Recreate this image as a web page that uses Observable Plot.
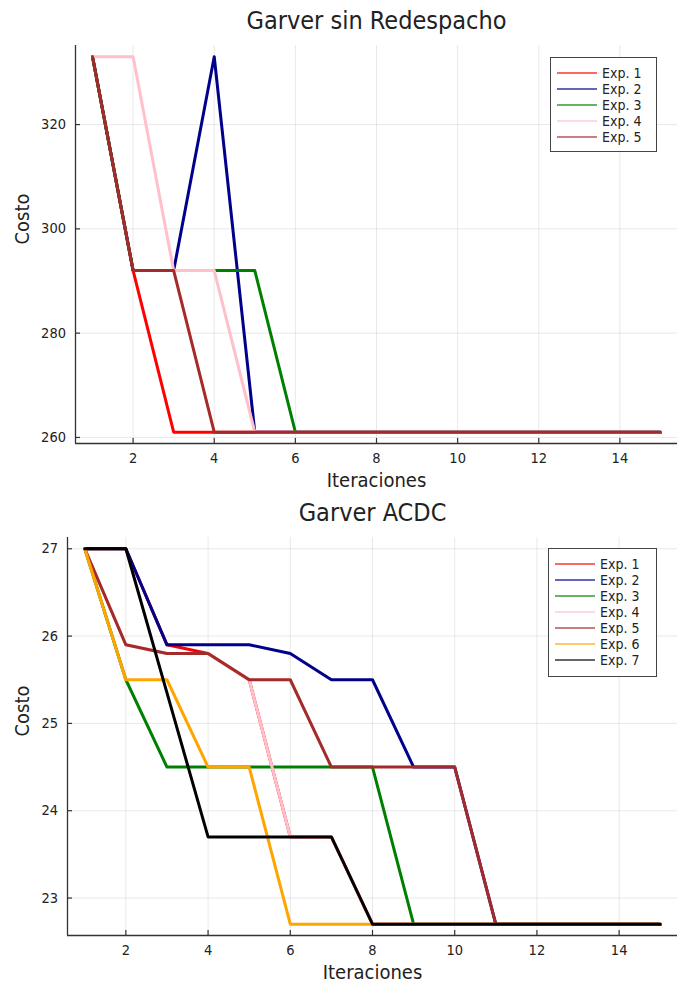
<!DOCTYPE html>
<html>
<head>
<meta charset="utf-8">
<script src="https://cdn.jsdelivr.net/npm/d3@7"></script>
<script src="https://cdn.jsdelivr.net/npm/@observablehq/plot@0.6"></script>
<style>
  html, body { margin: 0; padding: 0; background: #fff; }
  body { width: 680px; font-family: "DejaVu Sans Condensed", "DejaVu Sans", sans-serif; font-stretch: condensed; }
  .chart { position: relative; width: 680px; height: 493px; }
  .chart svg { display: block; }
  .legend { position: absolute; box-sizing: border-box; background: #fff; border: 1px solid #444;
            padding-top: 7px; font-size: 14px; color: #222; }
  .legend .row { display: flex; align-items: center; height: 16px; }
  .legend svg { margin-left: 6px; margin-right: 5px; }
</style>
</head>
<body>
<div id="c1" class="chart"></div>
<div id="c2" class="chart"></div>
<script>
// ---------- data ----------
const iteraciones = [1, 2, 3, 4, 5, 6, 7, 8, 9, 10, 11, 12, 13, 14, 15];
const xTicks = [2, 4, 6, 8, 10, 12, 14];

// Garver sin Redespacho
const topNames  = ["Exp. 1", "Exp. 2", "Exp. 3", "Exp. 4", "Exp. 5"];
const topColors = ["#ff0000", "#00008b", "#008000", "#ffc0cb", "#a52a2a"];
const topExp1 = [333, 292, 261, 261, 261, 261, 261, 261, 261, 261, 261, 261, 261, 261, 261];
const topExp2 = [333, 292, 292, 333, 261, 261, 261, 261, 261, 261, 261, 261, 261, 261, 261];
const topExp3 = [333, 292, 292, 292, 292, 261, 261, 261, 261, 261, 261, 261, 261, 261, 261];
const topExp4 = [333, 333, 292, 292, 261, 261, 261, 261, 261, 261, 261, 261, 261, 261, 261];
const topExp5 = [333, 292, 292, 261, 261, 261, 261, 261, 261, 261, 261, 261, 261, 261, 261];
const topYTicks = [260, 280, 300, 320];

// Garver ACDC
const botNames  = ["Exp. 1", "Exp. 2", "Exp. 3", "Exp. 4", "Exp. 5", "Exp. 6", "Exp. 7"];
const botColors = ["#ff0000", "#00008b", "#008000", "#ffc0cb", "#a52a2a", "#ffa500", "#000000"];
const botExp1 = [27, 27, 25.9, 25.8, 25.5, 23.7, 23.7, 22.7, 22.7, 22.7, 22.7, 22.7, 22.7, 22.7, 22.7];
const botExp2 = [27, 27, 25.9, 25.9, 25.9, 25.8, 25.5, 25.5, 24.5, 24.5, 22.7, 22.7, 22.7, 22.7, 22.7];
const botExp3 = [27, 25.5, 24.5, 24.5, 24.5, 24.5, 24.5, 24.5, 22.7, 22.7, 22.7, 22.7, 22.7, 22.7, 22.7];
const botExp4 = [27, 25.9, 25.8, 25.8, 25.5, 23.7, 23.7, 22.7, 22.7, 22.7, 22.7, 22.7, 22.7, 22.7, 22.7];
const botExp5 = [27, 25.9, 25.8, 25.8, 25.5, 25.5, 24.5, 24.5, 24.5, 24.5, 22.7, 22.7, 22.7, 22.7, 22.7];
const botExp6 = [27, 25.5, 25.5, 24.5, 24.5, 22.7, 22.7, 22.7, 22.7, 22.7, 22.7, 22.7, 22.7, 22.7, 22.7];
const botExp7 = [27, 27, 25.35, 23.7, 23.7, 23.7, 23.7, 22.7, 22.7, 22.7, 22.7, 22.7, 22.7, 22.7, 22.7];
const botYTicks = [23, 24, 25, 26, 27];

// ---------- helpers ----------
const FONT = '"DejaVu Sans Condensed", "DejaVu Sans", sans-serif';
const TITLE_SIZE = 25, LABEL_SIZE = 20, TICK_SIZE = 14.5;

function tidy(names, seriesList) {
  const rows = [];
  names.forEach((n, i) => {
    seriesList[i].forEach((v, j) => rows.push({exp: n, iter: iteraciones[j], cost: v}));
  });
  return rows;
}

function chart({title, names, colors, series, yTicks, yDomain, margins}) {
  const W = 680, H = 493;
  const xDomain = [0.58, 15.42];
  const innerW = W - margins.left - margins.right;
  const innerH = H - margins.top - margins.bottom;
  const rows = tidy(names, series);
  return Plot.plot({
    width: W, height: H,
    marginLeft: margins.left, marginRight: margins.right,
    marginTop: margins.top, marginBottom: margins.bottom,
    style: {fontFamily: FONT, fontStretch: "condensed", background: "#fff", color: "#222", overflow: "visible"},
    x: {domain: xDomain, axis: null},
    y: {domain: yDomain, axis: null},
    color: {domain: names, range: colors},
    marks: [
      Plot.gridX(xTicks, {stroke: "#000", strokeOpacity: 0.09, strokeWidth: 1}),
      Plot.gridY(yTicks, {stroke: "#000", strokeOpacity: 0.09, strokeWidth: 1}),
      Plot.line(rows, {x: "iter", y: "cost", z: "exp", stroke: "exp", strokeWidth: 3, strokeLinejoin: "round"}),
      Plot.ruleY([yDomain[0]], {stroke: "#333", strokeWidth: 1.3}),
      Plot.ruleX([xDomain[0]], {stroke: "#333", strokeWidth: 1.3}),
      Plot.tickX(xTicks, {x: d => d, stroke: "#333", strokeWidth: 1.2, insetTop: innerH - 5}),
      Plot.tickY(yTicks, {y: d => d, stroke: "#333", strokeWidth: 1.2, insetRight: innerW - 5}),
      Plot.axisX(xTicks, {tickSize: 0, tickPadding: 9, label: null, tickFormat: d => String(d), fontSize: TICK_SIZE, fill: "#222"}),
      Plot.axisY(yTicks, {tickSize: 0, tickPadding: 9.5, label: null, tickFormat: d => String(d), fontSize: TICK_SIZE, fill: "#222"}),
      Plot.text(["Iteraciones"], {text: d => d, frameAnchor: "bottom", dy: 37, lineAnchor: "middle", fontSize: LABEL_SIZE, fill: "#222"}),
      Plot.text(["Costo"], {text: d => d, frameAnchor: "left", dx: margins.ylabel, rotate: -90, lineAnchor: "middle", fontSize: LABEL_SIZE, fill: "#222"}),
      Plot.text([title], {text: d => d, frameAnchor: "top", dy: -25, lineAnchor: "middle", fontSize: TITLE_SIZE, fill: "#222"})
    ]
  });
}

function legend(container, names, colors, box) {
  const div = document.createElement("div");
  div.className = "legend";
  Object.assign(div.style, {left: box.left + "px", top: box.top + "px", width: box.width + "px", height: box.height + "px"});
  names.forEach((n, i) => {
    const row = document.createElement("div");
    row.className = "row";
    row.innerHTML = `<svg width="40" height="6"><line x1="0" x2="40" y1="3" y2="3" stroke="${colors[i]}" stroke-width="2" stroke-opacity="0.6"/></svg><span>${n}</span>`;
    div.appendChild(row);
  });
  container.appendChild(div);
}

// ---------- draw ----------
const c1 = document.getElementById("c1");
c1.appendChild(chart({
  title: "Garver sin Redespacho",
  names: topNames, colors: topColors,
  series: [topExp1, topExp2, topExp3, topExp4, topExp5],
  yTicks: topYTicks, yDomain: [258.84, 335.16],
  margins: {left: 75, right: 3, top: 45, bottom: 50, ylabel: -53}
}));
legend(c1, topNames, topColors, {left: 550, top: 57, width: 107, height: 95});

const c2 = document.getElementById("c2");
c2.appendChild(chart({
  title: "Garver ACDC",
  names: botNames, colors: botColors,
  series: [botExp1, botExp2, botExp3, botExp4, botExp5, botExp6, botExp7],
  yTicks: botYTicks, yDomain: [22.571, 27.129],
  margins: {left: 67, right: 3, top: 44, bottom: 51, ylabel: -45}
}));
legend(c2, botNames, botColors, {left: 548, top: 55, width: 109, height: 129});
</script>
</body>
</html>
